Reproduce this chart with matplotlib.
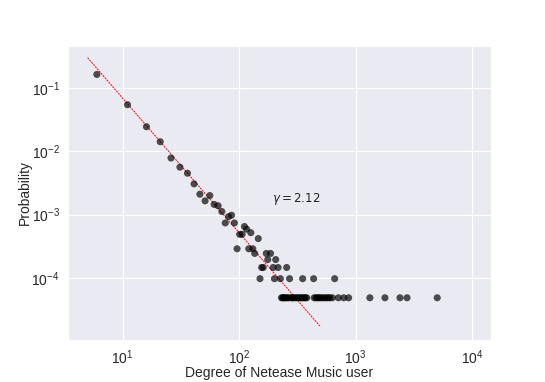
import numpy as np
import matplotlib
matplotlib.use("Agg")
import matplotlib.pyplot as plt
import seaborn as sns

sns.set_style("darkgrid")
plt.rcParams['font.family'] = ['Liberation Sans', 'DejaVu Sans']

degree = [6, 11, 16, 21, 26, 31, 36, 41, 46, 51, 56, 61, 66, 71, 76, 81, 86, 91,
          96, 101, 106, 111, 116, 121, 126, 131, 136, 146, 151, 156, 161, 171, 176,
          186, 196, 201, 206, 216, 226, 256, 271, 351, 436, 661,
          231, 236, 241, 246, 251, 261, 266, 281, 286, 291, 301, 311, 321, 331, 341,
          351, 361, 371, 381, 441, 456, 471, 486, 501, 521, 541, 561, 581, 601, 631,
          711, 791, 871, 1326, 1786, 2406, 2766, 5021]
prob = [1.62e-1, 5.4e-2, 2.43e-2, 1.41e-2, 7.8e-3, 5.6e-3, 4.5e-3, 3.05e-3, 2.1e-3,
        1.65e-3, 2.0e-3, 1.45e-3, 1.38e-3, 1.12e-3, 7.4e-4, 9.3e-4, 9.8e-4, 7.4e-4,
        2.9e-4, 4.9e-4, 4.9e-4, 6.5e-4, 5.9e-4, 2.9e-4, 5.2e-4, 2.9e-4, 2.45e-4,
        4.2e-4, 9.8e-5, 1.47e-4, 1.47e-4, 2.45e-4, 1.96e-4,
        2.45e-4, 1.47e-4, 9.8e-5, 1.96e-4, 1.47e-4, 9.8e-5, 1.47e-4, 9.8e-5, 9.8e-5,
        9.8e-5, 9.8e-5,
        4.9e-5, 4.9e-5, 4.9e-5, 4.9e-5, 4.9e-5, 4.9e-5, 4.9e-5, 4.9e-5, 4.9e-5,
        4.9e-5, 4.9e-5, 4.9e-5, 4.9e-5, 4.9e-5, 4.9e-5,
        4.9e-5, 4.9e-5, 4.9e-5, 4.9e-5, 4.9e-5, 4.9e-5, 4.9e-5, 4.9e-5, 4.9e-5,
        4.9e-5, 4.9e-5, 4.9e-5, 4.9e-5, 4.9e-5, 4.9e-5,
        4.9e-5, 4.9e-5, 4.9e-5, 4.9e-5, 4.9e-5, 4.9e-5, 4.9e-5, 4.9e-5]

# power-law fit
gamma = 2.12
coef = 9.0
fit_range = [5, 500]

fig = plt.figure(figsize=(5.45, 3.82), dpi=100)
ax = fig.add_subplot(111)
ax.scatter(degree, prob, s=26, color='black', alpha=0.68, edgecolors='none', zorder=3)
xf = np.logspace(np.log10(fit_range[0]), np.log10(fit_range[1]), 100)
ax.plot(xf, coef * xf ** (-gamma), color='red', linestyle='--', linewidth=0.7,
        dashes=(2, 1), zorder=2)
ax.set_xscale('log')
ax.set_yscale('log')
ax.set_xlim(3.4, 14400)
ax.set_ylim(1.06e-5, 0.457)
ax.text(192, 1.75e-3, r'$\gamma = 2.12$', fontsize=8.5, family='DejaVu Sans',
        va='center', ha='left', color='#222222')
ax.set_xlabel('Degree of Netease Music user', fontsize=10)
ax.set_ylabel('Probability', fontsize=10)
ax.xaxis.set_label_coords(0.5, -0.088)
ax.yaxis.set_label_coords(-0.087, 0.5)
ax.tick_params(labelsize=10, pad=2.5)
fig.subplots_adjust(left=0.125, right=0.9, bottom=0.11, top=0.88)
fig.savefig('out.png', dpi=100)
